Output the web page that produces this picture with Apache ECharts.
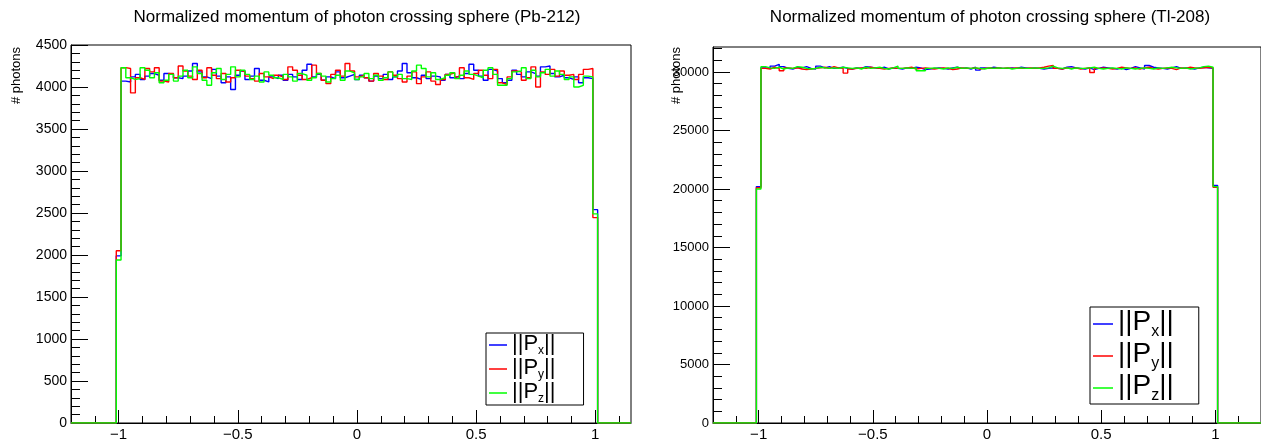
<!DOCTYPE html>
<html><head><meta charset="utf-8">
<script src="https://cdn.jsdelivr.net/npm/echarts@6/dist/echarts.min.js"></script>
<style>html,body{margin:0;padding:0;background:#fff}#c{width:1261px;height:442px}</style>
</head><body><div id="c"></div>
<script>
const FONT = '"Liberation Sans", Arial, Helvetica, sans-serif';
const TITLE_PB = 'Normalized momentum of photon crossing sphere (Pb-212)';
const TITLE_TL = 'Normalized momentum of photon crossing sphere (Tl-208)';
const Y_NAME = '# photons';
const SERIES_NAMES = ['Px', 'Py', 'Pz'];
const SERIES_SUB = { Px: 'x', Py: 'y', Pz: 'z' };
const SERIES_COLORS = ['#0000ff', '#ff0000', '#00ff00'];
const BIN_LO = -1.01, BIN_W = 0.02;
const xMajorTicks = [-1, -0.5, 0, 0.5, 1];
const pbYTicks = [0, 500, 1000, 1500, 2000, 2500, 3000, 3500, 4000, 4500];
const tlYTicks = [0, 5000, 10000, 15000, 20000, 25000, 30000];

const pbPx = [1990,
 4070, 4060, 4120, 4150, 4090, 4130, 4160, 4140, 4080, 4160,
 4150, 4110, 4100, 4130, 4190, 4280, 4180, 4120, 4100, 4210,
 4130, 4050, 4120, 3970, 4140, 4190, 4090, 4130, 4220, 4080,
 4060, 4120, 4100, 4140, 4080, 4150, 4120, 4090, 4200, 4270,
 4120, 4150, 4080, 4120, 4100, 4180, 4110, 4130, 4150, 4090,
 4140, 4110, 4070, 4130, 4100, 4150, 4090, 4120, 4190, 4280,
 4170, 4110, 4090, 4140, 4100, 4130, 4120, 4080, 4150, 4110,
 4130, 4100, 4160, 4270, 4200, 4130, 4080, 4210, 4190, 4100,
 4050, 4080, 4200, 4150, 4120, 4180, 4160, 4130, 4240, 4250,
 4160, 4120, 4140, 4110, 4090, 4120, 4050, 4110, 4100,
 2540];
const pbPy = [2050,
 4230, 4220, 3930, 4110, 4090, 4220, 4180, 4230, 4070, 4060,
 4160, 4110, 4250, 4190, 4130, 4090, 4200, 4110, 4230, 4140,
 4100, 4160, 4060, 4110, 4200, 4180, 4130, 4100, 4070, 4160,
 4120, 4100, 4140, 4120, 4090, 4240, 4200, 4140, 4090, 4110,
 4260, 4160, 4080, 4040, 4150, 4200, 4130, 4280, 4190, 4120,
 4140, 4110, 4070, 4160, 4130, 4090, 4180, 4140, 4100, 4060,
 4130, 4180, 4040, 4120, 4180, 4070, 4030, 4090, 4150, 4170,
 4120, 4230, 4110, 4090, 4160, 4200, 4140, 4100, 4210, 4050,
 4030, 4120, 4190, 4180, 4080, 4110, 4240, 4000, 4180, 4150,
 4210, 4130, 4190, 4140, 4150, 4090, 4150, 4210, 4220,
 2445];
const pbPz = [1940,
 4230, 4110, 4090, 4100, 4230, 4200, 4110, 4170, 4050, 4080,
 4150, 4070, 4130, 4200, 4110, 4240, 4160, 4080, 4020, 4170,
 4220, 4090, 4150, 4240, 4120, 4200, 4150, 4090, 4130, 4060,
 4180, 4140, 4110, 4090, 4150, 4120, 4070, 4160, 4140, 4080,
 4110, 4160, 4130, 4060, 4100, 4140, 4080, 4190, 4170, 4090,
 4120, 4160, 4100, 4140, 4080, 4110, 4180, 4120, 4150, 4100,
 4090, 4190, 4260, 4220, 4120, 4170, 4090, 4110, 4140, 4170,
 4100, 4140, 4190, 4150, 4130, 4110, 4200, 4230, 4150, 4020,
 4020, 4100, 4180, 4190, 4230, 4100, 4200, 4120, 4170, 4210,
 4130, 4190, 4150, 4090, 4120, 4000, 4020, 4130, 4120,
 2490];

const tlPx = [20200,
 30350, 30300, 30500, 30650, 30450, 30300, 30250, 30400, 30350, 30450,
 30300, 30250, 30500, 30350, 30450, 30300, 30350, 30400, 30300, 30250,
 30350, 30300, 30450, 30400, 30350, 30300, 30400, 30250, 30350, 30300,
 30250, 30350, 30300, 30400, 30350, 30200, 30250, 30300, 30350, 30300,
 30250, 30350, 30400, 30300, 30350, 30250, 30400, 30150, 30350, 30300,
 30400, 30350, 30300, 30300, 30350, 30300, 30400, 30350, 30300, 30350,
 30300, 30250, 30300, 30350, 30300, 30250, 30400, 30450, 30350, 30300,
 30250, 30350, 30200, 30300, 30400, 30350, 30300, 30250, 30350, 30200,
 30300, 30450, 30350, 30250, 30550, 30400, 30350, 30300, 30250, 30350,
 30450, 30300, 30350, 30300, 30250, 30350, 30400, 30350, 30300,
 20300];
const tlPy = [20100,
 30300, 30250, 30400, 30300, 30100, 30350, 30300, 30350, 30250, 30200,
 30250, 30300, 30350, 30400, 30300, 30450, 30350, 30300, 29900, 30250,
 30300, 30350, 30300, 30400, 30350, 30300, 30250, 30300, 30350, 30300,
 30300, 30350, 30400, 30250, 30300, 30350, 30300, 30250, 30300, 30350,
 30300, 30200, 30250, 30350, 30300, 30300, 30350, 30250, 30300, 30350,
 30300, 30350, 30300, 30350, 30300, 30350, 30300, 30300, 30350, 30300,
 30350, 30400, 30500, 30550, 30300, 30250, 30350, 30300, 30350, 30250,
 30300, 30350, 29950, 30300, 30350, 30300, 30250, 30300, 30400, 30350,
 30300, 30350, 30250, 30350, 30400, 30300, 30250, 30300, 30350, 30300,
 30200, 30350, 30300, 30400, 30350, 30300, 30350, 30400, 30350,
 20150];
const tlPz = [20000,
 30450, 30350, 30300, 30400, 30250, 30350, 30300, 30450, 30400, 30300,
 30250, 30300, 30400, 30350, 30300, 30350, 30300, 30400, 30350, 30300,
 30350, 30250, 30400, 30300, 30350, 30400, 30300, 30250, 30350, 30500,
 30300, 30350, 30300, 30350, 30100, 30100, 30300, 30350, 30300, 30250,
 30350, 30300, 30400, 30300, 30350, 30300, 30350, 30300, 30250, 30350,
 30300, 30350, 30300, 30350, 30250, 30300, 30350, 30300, 30300, 30350,
 30300, 30300, 30350, 30500, 30350, 30300, 30350, 30250, 30350, 30300,
 30300, 30350, 30400, 30300, 30250, 30300, 30350, 30300, 30250, 30350,
 30300, 30250, 30300, 30350, 30300, 30250, 30350, 30300, 30350, 30400,
 30350, 30300, 30350, 30250, 30300, 30350, 30450, 30500, 30400,
 20200];

// ---------- helpers ----------
function histPoints(vals, xmin, xmax) {
  const pts = [[xmin, 0]];
  vals.forEach((v, i) => pts.push([+(BIN_LO + i * BIN_W).toFixed(4), v]));
  pts.push([+(BIN_LO + vals.length * BIN_W).toFixed(4), 0]);
  pts.push([xmax, 0]);
  return pts;
}
function minorList(lo, hi, step, majorStep) {
  const out = [];
  const n = Math.round((hi - lo) / step);
  for (let k = 0; k <= n; k++) {
    const v = +(lo + k * step).toFixed(6);
    const r = v / majorStep;
    if (Math.abs(r - Math.round(r)) > 1e-6) out.push(v);
  }
  return out;
}
const fmtX = v => (v < 0 ? '\u2212' + Math.abs(v) : String(v));
const fmtY = v => String(v);

const panels = [
  { title: TITLE_PB, cx: 357, nameX: 16, xmin: -1.2, xmax: 1.15, ymax: 4500,
    yTicks: pbYTicks, yMinor: minorList(0, 4500, 100, 500), ylabSize: 14,
    grid: { left: 71, right: 630, top: 45, bottom: 19 }, data: [pbPx, pbPy, pbPz],
    legend: { left: 486, top: 333, padding: [0, 28, 0, 3], itemWidth: 18, fs: 22, pb: 2, sfs: 12, sp: 12 } },
  { title: TITLE_TL, cx: 990, nameX: 676, xmin: -1.2, xmax: 1.2, ymax: 32130,
    yTicks: tlYTicks, yMinor: minorList(0, 32000, 1000, 5000), ylabSize: 13,
    grid: { left: 713, right: -8, top: 47, bottom: 19 }, data: [tlPx, tlPy, tlPz],
    legend: { left: 1090, top: 307, padding: [1, 25, 0, 3], itemWidth: 20, fs: 28, pb: 4, sfs: 16, sp: 16 } }
];

const grids = [], xAxes = [], yAxes = [], series = [], legends = [], graphics = [];
panels.forEach((p, pi) => {
  const gMain = grids.length;
  grids.push(Object.assign({ show: true, borderColor: '#000', borderWidth: 1, backgroundColor: 'transparent' }, p.grid));
  const gMinor = grids.length;
  grids.push(Object.assign({ show: false }, p.grid));
  const xMinor = minorList(-1.2, 1.2, 0.1, 0.5);

  xAxes.push({ gridIndex: gMain, type: 'value', min: p.xmin, max: p.xmax, position: 'bottom',
    axisLine: { show: true, onZero: false, lineStyle: { color: '#000', width: 1 } },
    axisTick: { show: true, inside: true, length: 13, customValues: xMajorTicks, lineStyle: { color: '#000' } },
    axisLabel: { customValues: xMajorTicks, formatter: fmtX, color: '#000', fontSize: 15, fontFamily: FONT, margin: 4 },
    splitLine: { show: false } });
  xAxes.push({ gridIndex: gMinor, type: 'value', min: p.xmin, max: p.xmax, position: 'bottom',
    axisLine: { show: false, onZero: false }, axisLabel: { show: false }, splitLine: { show: false },
    axisTick: { show: true, inside: true, length: 7, customValues: xMinor, lineStyle: { color: '#000' } } });

  yAxes.push({ gridIndex: gMain, type: 'value', min: 0, max: p.ymax, position: 'left',
    axisLine: { show: true, onZero: false, lineStyle: { color: '#000', width: 1 } },
    axisTick: { show: true, inside: true, length: 17, customValues: p.yTicks, lineStyle: { color: '#000' } },
    axisLabel: { customValues: p.yTicks, formatter: fmtY, color: '#000', fontSize: p.ylabSize, fontFamily: FONT, margin: 4 },
    splitLine: { show: false } });
  yAxes.push({ gridIndex: gMinor, type: 'value', min: 0, max: p.ymax, position: 'left',
    axisLine: { show: false, onZero: false }, axisLabel: { show: false }, splitLine: { show: false },
    axisTick: { show: true, inside: true, length: 9, customValues: p.yMinor, lineStyle: { color: '#000' } } });

  p.data.forEach((vals, si) => {
    series.push({ type: 'line', name: SERIES_NAMES[si], xAxisIndex: gMain, yAxisIndex: gMain,
      step: 'end', symbol: 'none', showSymbol: false, animation: false,
      color: SERIES_COLORS[si], lineStyle: { color: SERIES_COLORS[si], width: 1.4 },
      data: histPoints(vals, p.xmin, p.xmax) });
  });

  const L = p.legend;
  legends.push({ data: SERIES_NAMES, orient: 'vertical', left: L.left, top: L.top, padding: L.padding,
    itemGap: 0, itemWidth: L.itemWidth, itemHeight: 1.5, icon: 'rect', borderColor: '#000', borderWidth: 1,
    backgroundColor: '#fff', selectedMode: false,
    formatter: n => '{m|||P}{s|' + SERIES_SUB[n] + '}{m|||}',
    textStyle: { fontSize: L.fs, color: '#000', fontFamily: FONT,
      rich: {
        m: { fontSize: L.fs, padding: [0, 0, L.pb, 0], color: '#000', fontFamily: FONT },
        s: { fontSize: L.sfs, padding: [L.sp, 0, 0, 0], color: '#000', fontFamily: FONT } } } });

  graphics.push({ type: 'text', x: p.cx, y: 17, silent: true,
    style: { text: p.title, fontSize: 17, fontFamily: FONT, fill: '#000', align: 'center', verticalAlign: 'middle' } });
  graphics.push({ type: 'text', x: p.nameX, y: 47, rotation: Math.PI / 2, silent: true,
    style: { text: Y_NAME, fontSize: 13, fontFamily: FONT, fill: '#000', align: 'right', verticalAlign: 'middle' } });
});

const chart = echarts.init(document.getElementById('c'), null, { renderer: 'canvas' });
chart.setOption({
  animation: false,
  backgroundColor: '#fff',
  grid: grids, xAxis: xAxes, yAxis: yAxes, series: series, legend: legends, graphic: graphics
});
</script></body></html>
